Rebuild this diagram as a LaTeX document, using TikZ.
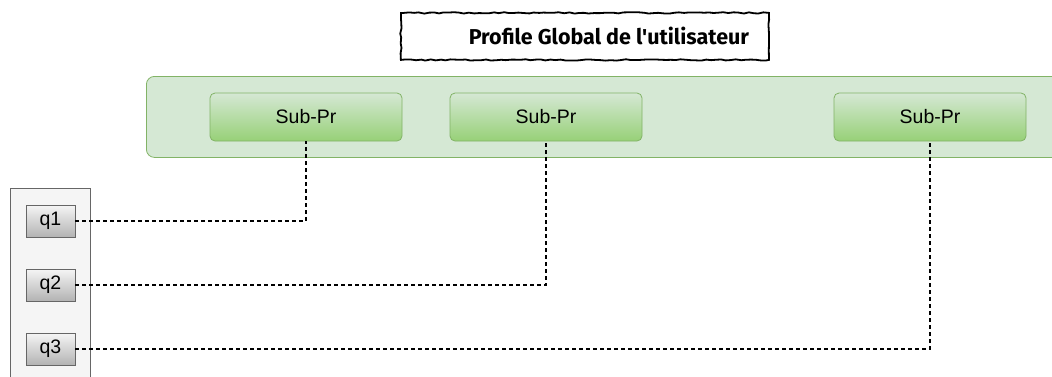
\documentclass[tikz,border=0pt]{standalone}
\usepackage{fontspec}
\setmainfont{Liberation Sans}
\newfontfamily\titlefont{Fira Sans}
\usetikzlibrary{decorations.pathmorphing}
\definecolor{grfill}{HTML}{D5E8D4}
\definecolor{grline}{HTML}{82B366}
\definecolor{grdark}{HTML}{97D077}
\definecolor{gyfill}{HTML}{F5F5F5}
\definecolor{gyline}{HTML}{666666}
\definecolor{gydark}{HTML}{B3B3B3}
\tikzset{
  x=1pt,y=-1pt,
  subbox/.style={draw=grline, line width=0.8pt, rounded corners=5pt, top color=grfill, bottom color=grdark,
     minimum width=192pt, minimum height=48pt, inner sep=0pt, font=\fontsize{19.5}{22}\selectfont},
  qbox/.style={draw=gyline, line width=0.8pt, top color=gyfill, bottom color=gydark,
     minimum width=49pt, minimum height=32pt, inner sep=0pt, font=\fontsize{19.5}{22}\selectfont},
  link/.style={dashed, dash pattern=on 4pt off 3pt, line width=1.3pt, black},
}
\begin{document}
\begin{tikzpicture}
\useasboundingbox (0,0) rectangle (1052,376);
\clip (0,0) rectangle (1052,376);
% green container
\node[draw=grline, fill=grfill, rounded corners=8pt, line width=0.8pt, minimum width=920pt, minimum height=81pt, inner sep=0pt, anchor=north west] (cont) at (146,76) {};
% left container
\node[draw=gyline, fill=gyfill, line width=0.8pt, minimum width=80pt, minimum height=200pt, inner sep=0pt, anchor=north west] (left) at (10,188) {};
% title
\node[draw, line width=1.8pt, fill=white, minimum width=368pt, minimum height=47pt, inner sep=0pt,
  decorate, decoration={random steps, segment length=5pt, amplitude=0.7pt},
  anchor=north west, font=\titlefont\bfseries\fontsize{21.5}{24}\selectfont] (title) at (400,12) {\hspace*{48pt}\raisebox{-2pt}{Profile Global de l'utilisateur}};
% sub profiles
\node[subbox] (s1) at (306,117) {Sub-Pr};
\node[subbox] (s2) at (546,117) {Sub-Pr};
\node[subbox] (s3) at (930,117) {Sub-Pr};
% queries
\node[qbox] (q1) at (50.5,221) {q1};
\node[qbox] (q2) at (50.5,285) {q2};
\node[qbox] (q3) at (50.5,349) {q3};
% links
\draw[link] (q1.east) -| (s1.south);
\draw[link] (q2.east) -| (s2.south);
\draw[link] (q3.east) -| (s3.south);
\end{tikzpicture}
\end{document}
